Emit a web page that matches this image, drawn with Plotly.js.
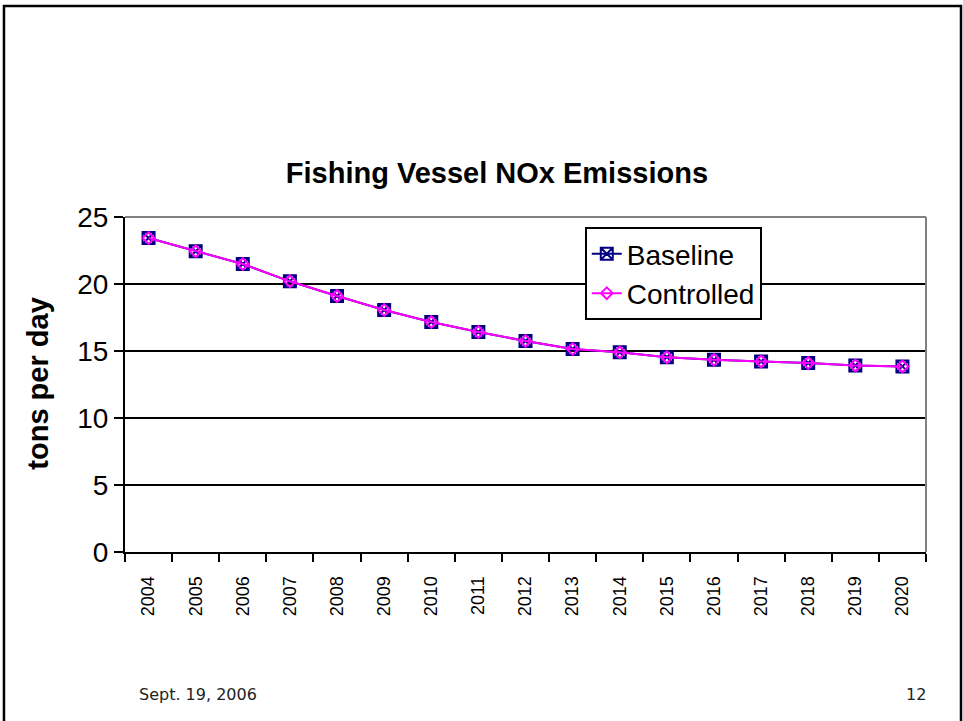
<!DOCTYPE html>
<html>
<head>
<meta charset="utf-8">
<script src="https://cdn.plot.ly/plotly-3.0.1.min.js"></script>
<style>
html,body{margin:0;padding:0;background:#fff;}
#chart{width:963px;height:721px;}
</style>
</head>
<body>
<div id="chart"></div>
<script>
var years = ['2004','2005','2006','2007','2008','2009','2010','2011','2012','2013','2014','2015','2016','2017','2018','2019','2020'];
var baseline = [23.43, 22.44, 21.49, 20.2, 19.1, 18.06, 17.16, 16.42, 15.75, 15.15, 14.9, 14.54, 14.34, 14.22, 14.1, 13.92, 13.85];
var controlled = [23.43, 22.44, 21.49, 20.2, 19.1, 18.06, 17.16, 16.42, 15.75, 15.15, 14.9, 14.54, 14.34, 14.22, 14.1, 13.92, 13.85];
var yTicks = [0, 5, 10, 15, 20, 25];

var FONT = 'Arial, "Liberation Sans", sans-serif';

var traces = [
  {
    x: years, y: baseline, name: 'Baseline', type: 'scatter', mode: 'lines+markers',
    line: {color: '#000080', width: 2},
    marker: {symbol: 'square-x-open', size: 12, color: '#000080', line: {color: '#000080', width: 2}}
  },
  {
    x: years, y: controlled, name: 'Controlled', type: 'scatter', mode: 'lines+markers',
    line: {color: '#FF00FF', width: 2},
    marker: {symbol: 'diamond-open', size: 9, color: '#FF00FF', line: {color: '#FF00FF', width: 2}}
  }
];

var layout = {
  width: 963, height: 721,
  margin: {l: 125, r: 37, t: 217, b: 169},
  paper_bgcolor: '#ffffff', plot_bgcolor: '#ffffff',
  font: {family: FONT, color: '#000'},
  showlegend: true,
  title: {
    text: '<b>Fishing Vessel NOx Emissions</b>',
    font: {family: FONT, size: 29, color: '#000'},
    xref: 'container', yref: 'container', x: 0.516, xanchor: 'center', y: 0.76, yanchor: 'middle'
  },
  xaxis: {
    type: 'category', range: [-0.5, 16.5], tickson: 'boundaries', ticks: 'outside', ticklen: 8, tickwidth: 2, tickcolor: '#000',
    showline: true, linecolor: '#000', linewidth: 2, showgrid: false, zeroline: false,
    tickangle: -90, tickfont: {family: FONT, size: 18, color: '#000'}, ticklabelstandoff: 15, fixedrange: true
  },
  yaxis: {
    range: [0, 25], tickvals: yTicks, ticktext: yTicks.map(String), ticks: 'outside', ticklen: 9, tickwidth: 2, tickcolor: '#000',
    showline: true, linecolor: '#000', linewidth: 2, showgrid: true, gridcolor: '#000', gridwidth: 1.5, zeroline: false,
    tickfont: {family: FONT, size: 28, color: '#000'}, fixedrange: true
  },
  legend: {
    x: 0.574, y: 0.97, xanchor: 'left', yanchor: 'top',
    bgcolor: '#fff', bordercolor: '#000', borderwidth: 2,
    font: {family: FONT, size: 28, color: '#000'}, tracegroupgap: 0
  },
  shapes: [
    {type: 'line', xref: 'paper', yref: 'paper', x0: 0, x1: 1, y0: 1, y1: 1, line: {color: '#808080', width: 2}},
    {type: 'line', xref: 'paper', yref: 'paper', x0: 1, x1: 1, y0: 0, y1: 1, line: {color: '#808080', width: 2}},
    {type: 'rect', xref: 'paper', yref: 'paper', x0: -0.1511, x1: 1.0437, y0: -0.53, y1: 1.6299, line: {color: '#000', width: 2.5}, fillcolor: 'rgba(0,0,0,0)', layer: 'below'}
  ],
  annotations: [
    {text: '<b>tons per day</b>', xref: 'paper', yref: 'paper', x: -0.108, y: 0.504, xanchor: 'center', yanchor: 'middle',
     textangle: -90, showarrow: false, font: {family: FONT, size: 29, color: '#000'}},
    {text: 'Sept. 19, 2006', xref: 'paper', yref: 'paper', x: 0.015, y: -0.424, xanchor: 'left', yanchor: 'middle',
     showarrow: false, font: {family: '"DejaVu Sans", Verdana, sans-serif', size: 16, color: '#222'}},
    {text: '12', xref: 'paper', yref: 'paper', x: 1.0025, y: -0.424, xanchor: 'right', yanchor: 'middle',
     showarrow: false, font: {family: '"DejaVu Sans", Verdana, sans-serif', size: 16, color: '#222'}}
  ]
};

Plotly.newPlot('chart', traces, layout, {displayModeBar: false, staticPlot: true});
</script>
</body>
</html>
